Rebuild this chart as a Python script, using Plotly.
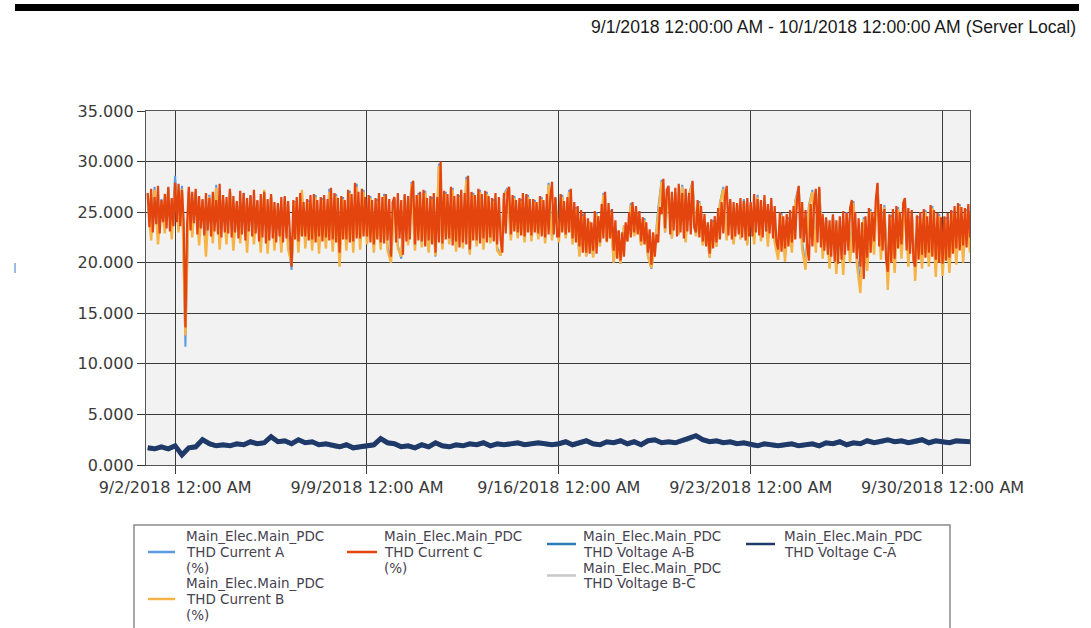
import pandas as pd
import plotly.graph_objects as go

# ---------------------------------------------------------------- data
# THD current A and B (%), 3-hour samples from 9/1/2018 00:00.
cur_a = [
    26.8, 23.0, 27.5, 22.7, 26.3, 23.7, 27.4, 23.1,
    28.6, 23.9, 27.6, 11.7, 27.4, 23.3, 27.1, 22.5,
    26.2, 22.3, 26.7, 22.8, 27.7, 22.2, 26.4, 22.7,
    27.2, 22.1, 26.0, 22.7, 26.9, 21.9, 26.6, 22.6,
    26.1, 21.8, 26.9, 21.4, 26.7, 22.1, 25.8, 21.5,
    26.5, 22.0, 19.3, 26.1, 21.8, 26.8, 22.3, 26.2,
    22.0, 26.7, 21.7, 26.4, 22.2, 27.3, 21.9, 26.8,
    20.8, 26.5, 22.0, 27.1, 21.8, 27.8, 22.1, 27.2,
    22.3, 26.6, 21.5, 26.3, 21.7, 26.8, 21.6, 20.3,
    26.4, 21.7, 20.4, 26.7, 22.0, 28.0, 21.5, 26.9,
    21.8, 27.1, 21.3, 26.5, 20.6, 29.8, 21.6, 27.0,
    22.1, 27.4, 21.4, 26.7, 21.7, 28.5, 21.0, 26.9,
    21.9, 27.2, 21.6, 27.0, 22.2, 26.3, 21.5, 20.7,
    26.8, 27.4, 22.5, 26.6, 22.7, 26.3, 22.3, 26.7,
    22.4, 26.2, 22.6, 26.5, 22.2, 27.9, 22.5, 26.4,
    22.3, 26.7, 22.7, 27.2, 22.1, 25.5, 20.7, 24.8,
    20.7, 24.0, 20.6, 25.0, 21.7, 26.9, 22.1, 25.2,
    20.1, 23.1, 19.9, 23.7, 22.2, 25.9, 22.7, 25.0,
    21.8, 24.4, 20.7, 19.4, 21.6, 25.4, 28.2, 23.0,
    27.5, 22.4, 26.9, 22.8, 27.7, 22.1, 26.8, 28.0,
    22.7, 26.1, 21.8, 23.7, 20.5, 24.2, 21.6, 25.9,
    27.5, 22.4, 26.2, 22.0, 25.8, 22.5, 26.3, 21.9,
    25.9, 22.3, 26.7, 22.7, 26.1, 22.2, 25.7, 22.6,
    21.0, 24.9, 20.8, 24.5, 21.7, 26.1, 27.5, 22.1,
    19.7, 25.7, 27.2, 21.7, 27.4, 21.2, 24.4, 20.3,
    24.7, 19.8, 24.1, 19.6, 25.0, 20.9, 26.1, 20.7,
    18.1, 24.5, 20.2, 25.3, 21.8, 27.8, 21.3, 25.7,
    18.8, 24.7, 20.1, 25.5, 21.5, 26.3, 20.6, 25.1,
    19.3, 24.6, 20.5, 25.2, 20.7, 25.6, 20.0, 24.8,
    19.6, 24.5, 20.2, 25.1, 21.1, 25.8, 21.4, 25.3,
    22.2,
]
cur_b = [
    26.6, 22.2, 27.2, 21.8, 26.0, 22.9, 27.1, 22.3,
    27.6, 23.0, 27.3, 12.8, 27.1, 22.5, 26.8, 21.7,
    26.0, 20.6, 26.5, 21.9, 27.4, 21.3, 26.1, 21.8,
    27.0, 21.2, 25.8, 21.9, 26.6, 21.0, 26.3, 21.8,
    25.9, 21.0, 27.2, 20.9, 26.5, 21.2, 25.6, 21.0,
    26.3, 21.3, 19.9, 26.0, 21.0, 27.2, 21.4, 26.0,
    21.2, 26.5, 20.9, 26.2, 21.4, 27.0, 21.1, 26.6,
    19.6, 26.3, 21.2, 26.9, 21.0, 27.5, 21.3, 27.0,
    21.8, 26.4, 21.0, 26.1, 21.3, 26.6, 21.2, 20.0,
    26.2, 21.4, 20.6, 26.5, 21.7, 27.8, 21.2, 26.7,
    21.5, 26.9, 21.0, 26.3, 20.7, 29.6, 21.3, 26.8,
    21.8, 27.2, 21.1, 26.5, 21.4, 28.2, 20.8, 26.7,
    21.6, 27.0, 21.3, 26.8, 21.9, 26.1, 21.2, 20.7,
    26.6, 27.2, 22.2, 26.4, 22.4, 26.1, 22.0, 26.5,
    22.1, 26.0, 22.3, 26.3, 21.9, 27.7, 22.2, 26.2,
    22.0, 26.5, 22.4, 27.0, 21.8, 25.3, 20.6, 24.6,
    20.6, 24.1, 20.5, 24.8, 21.6, 26.7, 22.0, 25.0,
    20.0, 22.9, 19.9, 23.7, 22.1, 25.7, 22.6, 24.8,
    21.7, 24.2, 20.6, 19.5, 21.6, 25.2, 28.0, 23.0,
    27.3, 22.4, 26.7, 22.8, 27.5, 22.0, 26.6, 27.8,
    22.6, 25.9, 21.7, 23.7, 20.5, 24.0, 21.6, 25.7,
    27.3, 22.2, 26.0, 21.8, 25.6, 22.3, 26.1, 21.7,
    25.7, 21.8, 26.5, 22.1, 25.9, 21.6, 25.5, 22.0,
    20.3, 24.7, 20.1, 24.3, 21.0, 25.9, 27.3, 21.4,
    19.3, 25.5, 27.0, 21.0, 27.2, 20.4, 24.2, 19.4,
    24.5, 18.9, 23.9, 18.8, 24.8, 20.0, 25.9, 19.8,
    17.0, 24.3, 19.2, 25.1, 20.8, 27.6, 20.3, 25.5,
    17.3, 24.5, 19.0, 25.3, 20.4, 26.1, 19.6, 24.9,
    18.2, 24.4, 19.4, 25.0, 19.6, 25.4, 18.6, 24.6,
    18.7, 24.3, 19.0, 24.9, 19.8, 25.6, 20.0, 25.1,
    21.0,
]
# THD current C (%), 90-minute samples from 9/1/2018 00:00 (one row per day).
cur_c = [
    26.9, 23.5, 27.3, 23.0, 26.5, 23.8, 27.6, 22.9, 26.2, 24.0, 26.8, 23.4, 27.5, 23.1, 26.4, 23.6,
    27.9, 24.0, 27.8, 23.6, 27.2, 24.1, 13.6, 23.8, 27.5, 23.2, 27.0, 23.9, 27.3, 22.8, 26.6, 23.4,
    26.3, 22.7, 26.9, 23.2, 26.4, 22.6, 27.0, 23.1, 26.2, 22.8, 27.8, 22.5, 26.7, 23.0, 26.5, 22.9,
    27.3, 22.5, 26.6, 23.0, 26.1, 22.4, 27.1, 22.8, 26.9, 22.2, 26.4, 23.1, 26.7, 22.6, 27.2, 22.9,
    26.2, 22.1, 26.8, 22.5, 27.0, 21.9, 26.3, 22.2, 26.8, 22.4, 26.0, 22.0, 25.9, 22.6, 26.5, 22.0,
    26.6, 22.4, 26.1, 22.8, 19.6, 26.2, 22.3, 26.5, 22.1, 26.9, 22.6, 26.0, 22.6, 26.3, 22.2, 26.7,
    22.3, 26.8, 22.0, 26.2, 22.6, 26.5, 22.1, 26.7, 22.5, 26.3, 22.2, 27.4, 22.3, 26.9, 22.0, 26.4,
    21.0, 26.6, 22.3, 26.2, 22.3, 27.2, 22.0, 26.8, 22.1, 27.9, 22.4, 27.0, 22.4, 27.3, 22.6, 26.5,
    22.6, 26.7, 22.0, 26.2, 21.8, 26.4, 22.3, 26.9, 22.0, 26.5, 21.9, 26.8, 22.2, 26.3, 20.6, 26.0,
    26.5, 22.0, 26.9, 22.4, 26.2, 20.8, 26.8, 22.1, 26.6, 22.3, 27.0, 28.1, 21.8, 26.7, 22.2, 27.0,
    22.1, 27.2, 21.6, 26.4, 22.2, 26.6, 21.8, 26.9, 21.0, 26.5, 22.0, 30.0, 21.9, 27.1, 22.3, 26.8,
    22.4, 27.5, 21.7, 26.6, 22.1, 26.8, 21.5, 27.2, 22.0, 26.9, 21.8, 28.6, 21.3, 27.0, 22.2, 26.7,
    22.2, 27.3, 21.9, 26.8, 22.4, 27.1, 22.0, 26.6, 22.5, 26.4, 22.1, 26.9, 21.8, 26.5, 22.3, 21.0,
    26.9, 22.9, 27.0, 27.5, 22.8, 26.7, 23.1, 26.2, 23.0, 26.4, 22.7, 26.9, 22.6, 26.8, 23.0, 26.3,
    22.7, 26.3, 23.0, 26.0, 22.9, 26.6, 22.6, 26.2, 22.5, 26.8, 22.8, 26.4, 28.0, 22.8, 26.5, 22.6,
    22.6, 26.8, 23.0, 26.1, 22.8, 26.5, 23.0, 27.3, 22.4, 26.0, 22.0, 25.6, 21.6, 25.2, 21.0, 24.9,
    21.0, 24.4, 20.9, 24.0, 21.2, 25.1, 20.9, 24.6, 22.0, 25.8, 22.4, 27.0, 22.1, 25.9, 22.4, 25.3,
    21.2, 24.2, 20.4, 23.2, 20.2, 23.0, 20.6, 24.0, 22.1, 25.0, 22.5, 26.0, 23.0, 25.6, 22.8, 25.1,
    22.1, 24.5, 21.8, 24.0, 21.0, 23.3, 19.8, 23.0, 20.6, 22.8, 22.0, 25.5, 24.8, 28.3, 23.4, 27.2,
    27.6, 22.8, 27.0, 23.2, 27.4, 22.6, 27.8, 23.0, 26.9, 22.4, 27.3, 23.1, 26.9, 22.8, 28.1, 23.5,
    23.0, 26.2, 22.5, 25.6, 22.1, 24.8, 21.6, 24.0, 20.9, 24.3, 21.4, 24.6, 22.0, 25.4, 22.3, 26.0,
    22.9, 26.5, 27.6, 22.7, 26.3, 22.3, 26.0, 22.6, 25.9, 22.8, 26.4, 22.5, 26.1, 22.2, 26.4, 22.6,
    26.0, 22.6, 26.8, 23.0, 26.3, 22.7, 26.2, 22.5, 26.7, 23.1, 25.8, 22.9, 26.4, 22.4, 25.6, 22.1,
    21.3, 25.0, 21.1, 24.6, 21.4, 24.8, 21.6, 25.2, 22.0, 25.6, 22.3, 26.2, 27.6, 22.4, 26.0, 22.0,
    25.2, 21.5, 20.2, 25.8, 21.6, 25.9, 27.3, 22.0, 27.5, 21.5, 24.8, 21.2, 24.5, 20.8, 24.2, 20.6,
    24.8, 20.1, 24.2, 19.9, 24.6, 20.3, 25.1, 20.8, 24.9, 21.2, 25.4, 26.2, 21.0, 25.0, 20.4, 24.4,
    19.6, 24.0, 18.4, 24.6, 20.5, 25.4, 21.0, 25.0, 22.1, 26.2, 27.9, 21.6, 25.8, 21.2, 25.3, 20.4,
    19.1, 24.8, 20.0, 25.3, 20.4, 25.6, 21.4, 25.0, 21.8, 25.9, 26.4, 21.2, 25.4, 20.9, 25.2, 20.2,
    19.6, 24.7, 20.3, 25.0, 20.8, 25.3, 20.5, 24.6, 21.0, 25.7, 20.6, 25.2, 20.3, 24.9, 20.0, 24.5,
    19.9, 24.6, 20.2, 24.9, 20.5, 25.2, 20.9, 25.6, 21.4, 25.9, 21.2, 25.5, 21.7, 25.4, 21.5, 25.8,
    22.5,
]

# THD voltage (%), 6-hour samples from 9/1/2018 00:00 (three days per row).
volt_ab = [
    1.62, 1.52, 1.72, 1.52, 1.82, 1.05, 1.62, 1.72, 2.42, 2.02, 1.82, 1.92,
    1.82, 2.02, 1.92, 2.22, 2.02, 2.12, 2.72, 2.22, 2.32, 2.02, 2.42, 2.12,
    2.22, 1.92, 2.02, 1.82, 1.72, 1.92, 1.62, 1.72, 1.82, 1.92, 2.52, 2.12,
    2.02, 1.72, 1.82, 1.62, 1.92, 1.72, 2.12, 1.82, 1.72, 1.92, 1.82, 2.02,
    1.92, 2.12, 1.82, 2.02, 1.92, 2.02, 2.12, 1.92, 2.02, 2.12, 2.02, 1.92,
    2.02, 2.22, 1.92, 2.12, 2.32, 2.02, 1.92, 2.22, 2.12, 2.32, 2.02, 2.22,
    1.92, 2.32, 2.42, 2.12, 2.22, 2.12, 2.32, 2.52, 2.82, 2.42, 2.22, 2.32,
    2.12, 2.22, 2.02, 2.12, 1.92, 1.82, 2.02, 1.92, 1.82, 1.92, 2.02, 1.82,
    1.92, 2.02, 1.82, 2.12, 2.02, 2.22, 1.92, 2.12, 2.02, 2.32, 2.12, 2.22,
    2.42, 2.22, 2.32, 2.12, 2.22, 2.42, 2.12, 2.32, 2.22, 2.12, 2.32, 2.22,
    2.22,
]
volt_bc = [
    1.66, 1.56, 1.76, 1.56, 1.86, 1.02, 1.66, 1.76, 2.46, 2.06, 1.86, 1.96,
    1.86, 2.06, 1.96, 2.26, 2.06, 2.16, 2.76, 2.26, 2.36, 2.06, 2.46, 2.16,
    2.26, 1.96, 2.06, 1.86, 1.76, 1.96, 1.66, 1.76, 1.86, 1.96, 2.56, 2.16,
    2.06, 1.76, 1.86, 1.66, 1.96, 1.76, 2.16, 1.86, 1.76, 1.96, 1.86, 2.06,
    1.96, 2.16, 1.86, 2.06, 1.96, 2.06, 2.16, 1.96, 2.06, 2.16, 2.06, 1.96,
    2.06, 2.26, 1.96, 2.16, 2.36, 2.06, 1.96, 2.26, 2.16, 2.36, 2.06, 2.26,
    1.96, 2.36, 2.46, 2.16, 2.26, 2.16, 2.36, 2.56, 2.86, 2.46, 2.26, 2.36,
    2.16, 2.26, 2.06, 2.16, 1.96, 1.86, 2.06, 1.96, 1.86, 1.96, 2.06, 1.86,
    1.96, 2.06, 1.86, 2.16, 2.06, 2.26, 1.96, 2.16, 2.06, 2.36, 2.16, 2.26,
    2.46, 2.26, 2.36, 2.16, 2.26, 2.46, 2.16, 2.36, 2.26, 2.16, 2.36, 2.26,
    2.26,
]
volt_ca = [
    1.7, 1.6, 1.8, 1.6, 1.9, 1.0, 1.7, 1.8, 2.5, 2.1, 1.9, 2.0,
    1.9, 2.1, 2.0, 2.3, 2.1, 2.2, 2.8, 2.3, 2.4, 2.1, 2.5, 2.2,
    2.3, 2.0, 2.1, 1.9, 1.8, 2.0, 1.7, 1.8, 1.9, 2.0, 2.6, 2.2,
    2.1, 1.8, 1.9, 1.7, 2.0, 1.8, 2.2, 1.9, 1.8, 2.0, 1.9, 2.1,
    2.0, 2.2, 1.9, 2.1, 2.0, 2.1, 2.2, 2.0, 2.1, 2.2, 2.1, 2.0,
    2.1, 2.3, 2.0, 2.2, 2.4, 2.1, 2.0, 2.3, 2.2, 2.4, 2.1, 2.3,
    2.0, 2.4, 2.5, 2.2, 2.3, 2.2, 2.4, 2.6, 2.9, 2.5, 2.3, 2.4,
    2.2, 2.3, 2.1, 2.2, 2.0, 1.9, 2.1, 2.0, 1.9, 2.0, 2.1, 1.9,
    2.0, 2.1, 1.9, 2.2, 2.1, 2.3, 2.0, 2.2, 2.1, 2.4, 2.2, 2.3,
    2.5, 2.3, 2.4, 2.2, 2.3, 2.5, 2.2, 2.4, 2.3, 2.2, 2.4, 2.3,
    2.3,
]

series_names = [
    "Main_Elec.Main_PDC THD Current A (%)",
    "Main_Elec.Main_PDC THD Current B (%)",
    "Main_Elec.Main_PDC THD Current C (%)",
    "Main_Elec.Main_PDC THD Voltage A-B",
    "Main_Elec.Main_PDC THD Voltage B-C",
    "Main_Elec.Main_PDC THD Voltage C-A",
]
# legend text as printed, broken into lines
legend_lines = [
    ["Main_Elec.Main_PDC", "THD Current A", "(%)"],
    ["Main_Elec.Main_PDC", "THD Current B", "(%)"],
    ["Main_Elec.Main_PDC", "THD Current C", "(%)"],
    ["Main_Elec.Main_PDC", "THD Voltage A-B"],
    ["Main_Elec.Main_PDC", "THD Voltage B-C"],
    ["Main_Elec.Main_PDC", "THD Voltage C-A"],
]
colors = ["#5b9be0", "#f7b446", "#e4450f", "#2f78b8", "#c8c8c8", "#1f3a68"]

tick_dates = ["2018-09-02", "2018-09-09", "2018-09-16", "2018-09-23", "2018-09-30"]
tick_labels = ["9/2/2018 12:00 AM", "9/9/2018 12:00 AM", "9/16/2018 12:00 AM",
               "9/23/2018 12:00 AM", "9/30/2018 12:00 AM"]
period_text = "9/1/2018 12:00:00 AM - 10/1/2018 12:00:00 AM (Server Local)"

# ---------------------------------------------------------------- time bases
t_ab = pd.date_range("2018-09-01", periods=len(cur_a), freq="3h")
t_c = pd.date_range("2018-09-01", periods=len(cur_c), freq="90min")
t_v = pd.date_range("2018-09-01", periods=len(volt_ca), freq="6h")

# ---------------------------------------------------------------- geometry (px)
FIG_W, FIG_H = 1091, 628
PL, PR, PT, PB = 146, 970, 111, 465
PW, PH = PR - PL, PB - PT


def px(x):
    return (x - PL) / PW


def py(y):
    return (PB - y) / PH


fig = go.Figure()

series = [
    (t_ab, cur_a, 2.0),
    (t_ab, cur_b, 2.4),
    (t_c, cur_c, 2.2),
    (t_v, volt_ab, 3.0),
    (t_v, volt_bc, 3.0),
    (t_v, volt_ca, 5.0),
]
for (t, v, w), name, col in zip(series, series_names, colors):
    fig.add_trace(go.Scatter(
        x=t, y=v, mode="lines", name=name,
        line=dict(color=col, width=w),
        showlegend=False, hoverinfo="skip",
    ))

axis_font = dict(family="DejaVu Sans", size=16, color="#3a3a3a")

fig.update_xaxes(
    type="date",
    range=["2018-08-31 22:30", "2018-10-01 00:00"],
    tickvals=tick_dates, ticktext=tick_labels,
    showgrid=True, gridcolor="#3a3a3a", gridwidth=1.4,
    ticks="outside", ticklen=8, tickcolor="#3a3a3a", tickwidth=1.2,
    showline=True, linecolor="#555555", linewidth=1.4, mirror=True,
    tickfont=axis_font, zeroline=False,
)
fig.update_yaxes(
    range=[0, 35], dtick=5, tick0=0, tickformat=".3f",
    showgrid=True, gridcolor="#3a3a3a", gridwidth=1.4,
    ticks="outside", ticklen=8, tickcolor="#3a3a3a", tickwidth=1.2,
    showline=True, linecolor="#555555", linewidth=1.4, mirror=True,
    tickfont=axis_font, zeroline=False,
)

shapes = []
annotations = []

# heavy rule across the top of the page
shapes.append(dict(type="rect", xref="paper", yref="paper",
                   x0=px(15), x1=px(1079), y0=py(4), y1=py(11),
                   fillcolor="#000000", line=dict(width=0)))
# small marker at the left page edge
shapes.append(dict(type="line", xref="paper", yref="paper",
                   x0=px(15), x1=px(15), y0=py(263), y1=py(273),
                   line=dict(color="#7aa6d8", width=1.5)))

annotations.append(dict(
    text=period_text, xref="paper", yref="paper",
    x=px(1078), y=py(27), xanchor="right", yanchor="middle",
    showarrow=False, font=dict(family="Liberation Sans", size=17.6, color="#1a1a1a"),
))

# legend box
shapes.append(dict(type="rect", xref="paper", yref="paper",
                   x0=px(134), x1=px(950), y0=py(525), y1=py(650),
                   line=dict(color="#8a8a8a", width=1.5), fillcolor="rgba(0,0,0,0)"))

# legend entries: (symbol x0, symbol x1, text x, first text line y, symbol y)
LINE_STEP = 15.8
legend_pos = [
    (148, 175, 185, 536, 552),
    (148, 175, 185, 583, 599),
    (347, 377, 383, 536, 552),
    (547, 576, 582, 536, 544),
    (547, 576, 582, 567.6, 575.5),
    (746, 775, 783, 536, 544),
]
leg_font = dict(family="DejaVu Sans", size=13.5, color="#45424f")
for (sx0, sx1, tx, ty, sy), lines, col in zip(legend_pos, legend_lines, colors):
    shapes.append(dict(type="line", xref="paper", yref="paper",
                       x0=px(sx0), x1=px(sx1), y0=py(sy), y1=py(sy),
                       line=dict(color=col, width=2.5)))
    for k, ln in enumerate(lines):
        annotations.append(dict(
            text=ln, xref="paper", yref="paper",
            x=px(tx), y=py(ty + LINE_STEP * k), xanchor="left", yanchor="middle",
            showarrow=False, font=leg_font, borderpad=0,
        ))

fig.update_layout(
    width=FIG_W, height=FIG_H,
    margin=dict(l=PL, r=FIG_W - PR, t=PT, b=FIG_H - PB, pad=0),
    paper_bgcolor="#ffffff", plot_bgcolor="#f2f2f2",
    shapes=shapes, annotations=annotations,
    showlegend=False,
)

fig.write_html("out.html")
